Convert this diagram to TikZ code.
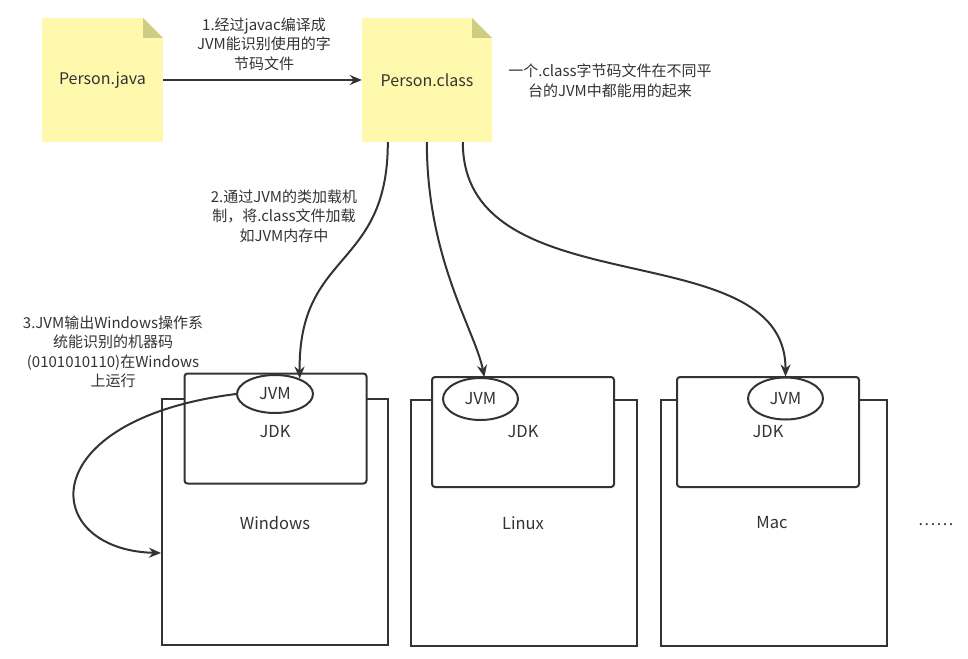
\documentclass[tikz,border=0pt]{standalone}
\usepackage{fontspec}
\setmainfont{Noto Sans CJK SC}
\usetikzlibrary{arrows.meta,calc,shapes.geometric}
\definecolor{noteyellow}{HTML}{FFF9AD}
\definecolor{notefold}{HTML}{CFCD84}
\definecolor{ink}{HTML}{333333}
\begin{document}
\begin{tikzpicture}[x=1pt,y=-1pt,
  notebox/.style={rectangle,fill=noteyellow,inner sep=0pt,minimum width=#1,minimum height=124pt,
    font=\fontsize{16}{18}\selectfont,text=ink,
    path picture={
      \fill[white] ($(path picture bounding box.north east)+(-20pt,0)$) -- (path picture bounding box.north east) -- ($(path picture bounding box.north east)+(0,-20pt)$) -- cycle;
      \fill[notefold] ($(path picture bounding box.north east)+(-20pt,0)$) -- ($(path picture bounding box.north east)+(-20pt,-20pt)$) -- ($(path picture bounding box.north east)+(0,-20pt)$) -- cycle;}},
  osbox/.style={rectangle,draw=ink,line width=2pt,fill=white,inner sep=0pt,minimum width=226pt,minimum height=246pt},
  jdkbox/.style={rectangle,rounded corners=3pt,draw=ink,line width=2pt,fill=white,inner sep=0pt,minimum width=182pt,minimum height=110pt},
  jvmell/.style={ellipse,draw=ink,line width=2pt,fill=white,inner sep=0pt,minimum width=75pt,minimum height=42pt,font=\fontsize{16.5}{18}\selectfont,text=ink},
  lbl/.style={font=\fontsize{16.5}{18}\selectfont,text=ink,inner sep=0pt},
  note/.style={font=\fontsize{15}{19.5}\selectfont,text=ink,align=center,inner sep=0pt},
  conn/.style={draw=ink,line width=2pt,-{Stealth[length=12pt,width=10pt]}}
]
\useasboundingbox (0,0) rectangle (968,658);

% notes
\node[notebox=121pt] (pj) at (102.5,80) {Person.java};
\node[notebox=130pt] (pc) at (427,80) {Person.class};

% OS boxes
\node[osbox] (win) at (275,522) {};
\node[osbox] (lin) at (523.5,523) {};
\node[osbox] (mac) at (774,523) {};

\node[jdkbox] (jdk1) at (275.5,428.5) {};
\node[jdkbox] (jdk2) at (523,432) {};
\node[jdkbox] (jdk3) at (768,432) {};

\node[jvmell,minimum height=38pt,minimum width=76pt] (jvm1) at (275,394) {JVM};
\node[jvmell] (jvm2) at (480.5,399) {JVM};
\node[jvmell] (jvm3) at (785.5,398.5) {JVM};

\node[lbl] (jdkt1) at (275,432) {JDK};
\node[lbl] (jdkt2) at (523,432) {JDK};
\node[lbl] (jdkt3) at (768,432) {JDK};

\node[lbl] (wint) at (275,523) {Windows};
\node[lbl] (lint) at (523,523) {Linux};
\node[lbl] (mact) at (772,523) {Mac};
\node[lbl,font=\fontsize{16}{18}\selectfont] (dots) at (936,525) {.\hspace{1.6pt}.\hspace{1.6pt}.\hspace{1.6pt}.\hspace{1.6pt}.\hspace{1.6pt}.};

% labels
\node[note] (l1) at (264,44) {1.经过javac编译成\\JVM能识别使用的字\\节码文件};
\node[note] (l0) at (610,81) {一个.class字节码文件在不同平\\台的JVM中都能用的起来};
\node[note] (l2) at (284,216) {2.通过JVM的类加载机\\制，将.class文件加载\\如JVM内存中};
\node[note] (l3) at (113,352) {3.JVM输出Windows操作系\\统能识别的机器码\\(0101010110)在Windows\\上运行};

% connectors
\coordinate (s1) at ($(pc.south west)+(26pt,0)$);
\coordinate (s2) at ($(pc.south west)+(65pt,0)$);
\coordinate (s3) at ($(pc.south west)+(101pt,0)$);
\coordinate (winin) at ($(win.west)+(0,-31pt)$);

\draw[conn] (pj.east) -- (pc.west);
\draw[conn] (s1) .. controls (388,270) and (298,250) .. (jvm1.32);
\draw[conn] (s2) .. controls (427,260) and (475,330) .. (jvm2.80);
\draw[conn] (s3) .. controls (463,310) and (786,230) .. (jvm3.north);
\draw[conn] (jvm1.west) .. controls (30,420) and (40,550) .. (winin);
\end{tikzpicture}
\end{document}
